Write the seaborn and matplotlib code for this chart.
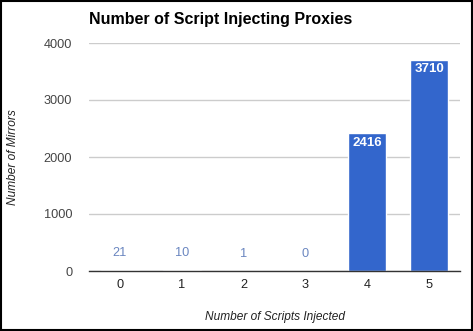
import matplotlib
matplotlib.use("Agg")
import matplotlib.pyplot as plt
import seaborn as sns
import pandas as pd
from matplotlib.patches import Rectangle

categories = ["0", "1", "2", "3", "4", "5"]
mirrors = [21, 10, 1, 0, 2416, 3710]
yticks = [0, 1000, 2000, 3000, 4000]

sns.set_theme(style="white")
plt.rcParams['font.family'] = ['Liberation Sans', 'DejaVu Sans']

df = pd.DataFrame({"scripts": categories, "mirrors": mirrors})

fig = plt.figure(figsize=(4.73, 3.31), dpi=100)
ax = fig.add_axes([89/473, 60/331, 371/473, 228/331])
sns.barplot(data=df, x="scripts", y="mirrors", color="#3366cc", saturation=1,
            width=0.62, ax=ax, zorder=3)

ax.set_ylim(0, 4000)
ax.set_yticks(yticks)
ax.set_yticklabels([str(v) for v in yticks], fontsize=9.2, color="#444444")
ax.tick_params(axis="x", labelsize=9.2, labelcolor="#222222", length=0, pad=6)
ax.tick_params(axis="y", length=0, pad=12)
ax.grid(axis="y", color="#cccccc", linewidth=1, zorder=0)
for s in ["top", "right", "left"]:
    ax.spines[s].set_visible(False)
ax.spines["bottom"].set_color("#333333")
ax.spines["bottom"].set_linewidth(1)
ax.spines["bottom"].set_zorder(4)

for i, v in enumerate(mirrors):
    if v > 1000:
        ax.text(i, v - 60, str(v), ha="center", va="top", color="white",
                fontsize=9.5, fontweight="bold", zorder=5)
    else:
        ax.text(i, v + 300, str(v), ha="center", va="center", color="#6a86c0",
                fontsize=9.2, zorder=5)

ax.set_xlabel("Number of Scripts Injected", fontsize=8.6, style="italic",
              color="#222222", labelpad=14)
ax.set_ylabel("Number of Mirrors", fontsize=8.6, style="italic",
              color="#222222", labelpad=18)
ax.set_title("Number of Script Injecting Proxies", fontsize=11.5,
             fontweight="bold", loc="left", color="black", pad=14)

fig.patches.append(Rectangle((0.002, 0.003), 0.995, 0.994, transform=fig.transFigure,
                             fill=False, edgecolor="black", linewidth=1.5))

fig.savefig("out.png", dpi=100)
